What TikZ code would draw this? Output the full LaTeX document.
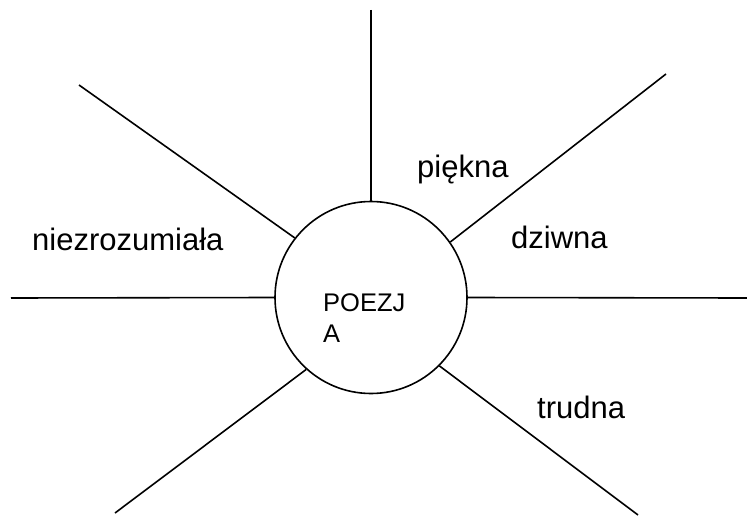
\documentclass[tikz,border=0pt]{standalone}
\usepackage{fontspec}
\setmainfont{Liberation Sans}
\usepackage{tikz}

\begin{document}
\begin{tikzpicture}[x=1pt,y=-1pt,
    ray/.style={line width=1.6pt},
    lbl/.style={anchor=base west,inner sep=0pt,font=\fontsize{31}{37}\selectfont}]
  \useasboundingbox (0,0) rectangle (747,516);
  % centre
  \node[draw,circle,line width=1.6pt,minimum size=192pt,inner sep=0pt] (poezja) at (371,297.5) {};
  \node[anchor=base west,inner sep=0pt,align=left,
        font=\fontsize{25.5}{31}\selectfont] (poezjatxt) at (323,342) {POEZJ\\A};
  % ends of the rays
  \coordinate (top) at (371,10);
  \coordinate (ur) at (666,74);
  \coordinate (rt) at (747,298);
  \coordinate (lr) at (638,515);
  \coordinate (ll) at (115,513);
  \coordinate (lt) at (11,298);
  \coordinate (ul) at (79,85);
  \draw[ray] (top) -- (poezja.90);
  \draw[ray] (ur) -- (poezja.35);
  \draw[ray] (rt) -- (poezja.0);
  \draw[ray] (lr) -- (poezja.-45.6);
  \draw[ray] (ll) -- (poezja.228.5);
  \draw[ray] (lt) -- (poezja.180);
  \draw[ray] (ul) -- (poezja.142.4);
  % words
  \node[lbl] (piekna) at (417,177) {piękna};
  \node[lbl] (dziwna) at (511,248) {dziwna};
  \node[lbl] (niezroz) at (32,250) {niezrozumiała};
  \node[lbl] (trudna) at (537,418) {trudna};
\end{tikzpicture}
\end{document}
